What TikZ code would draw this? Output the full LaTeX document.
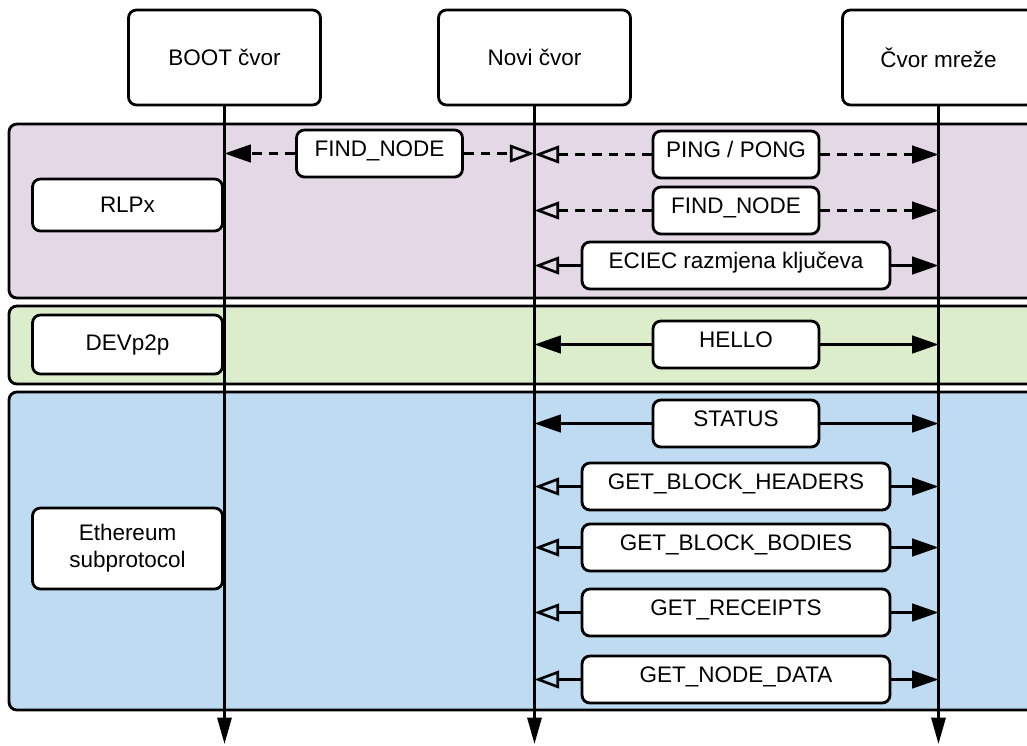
\documentclass[tikz,border=0pt]{standalone}
\usepackage{fontspec}
\setmainfont{Liberation Sans}
\usetikzlibrary{arrows.meta,positioning}
\definecolor{rlpxbg}{HTML}{E4D8E7}
\definecolor{devbg}{HTML}{DCEDCB}
\definecolor{ethbg}{HTML}{BEDBF1}

\begin{document}
\begin{tikzpicture}[x=0.02cm, y=-0.02cm, line width=1.6pt,
  font=\fontsize{12.8}{15.5}\selectfont,
  box/.style={draw, fill=white, line width=1.6pt, rounded corners=4.5pt, align=center, inner sep=0pt},
  head/.style={box, minimum width=3.84cm, minimum height=1.9cm},
  layer/.style={box, minimum width=3.8cm},
  msg/.style={box, minimum width=3.32cm, minimum height=0.94cm, text height=0.8em, text depth=0.44em},
  wide/.style={msg, minimum width=6.16cm},
  band/.style={draw, line width=1.6pt, rounded corners=4.5pt},
  full/.style={line width=1.5pt, -{Triangle[length=15pt,width=10pt]}},
  hollow/.style={line width=1.5pt, -{Triangle[open,length=14pt,width=10pt]}},
  life/.style={line width=1.6pt, -{Triangle[length=15pt,width=8pt]}},
  dashd/.style={dash pattern=on 5.5pt off 4pt}]
  \useasboundingbox (0,0) rectangle (1027,745);
  \clip (0,0) rectangle (1027,745);

  % protocol layers
  \draw[band, fill=rlpxbg] (9,124) rectangle (1060,298);
  \draw[band, fill=devbg]  (9,306) rectangle (1060,384);
  \draw[band, fill=ethbg]  (9,392) rectangle (1060,710);

  \node[layer, minimum height=1.04cm] (rlpx) at (127.5,205)   {RLPx};
  \node[layer, minimum height=1.18cm] (dev)  at (127.5,344.5) {DEVp2p};
  \node[layer, minimum height=1.62cm] (eth)  at (127.5,548.5) {Ethereum\\subprotocol};

  % participants
  \node[head] (boot)  at (224.5,57.5) {BOOT čvor};
  \node[head] (novi)  at (534.5,57.5) {Novi čvor};
  \node[head] (mreza) at (938.5,57.5) {Čvor mreže};
  \coordinate (bottom) at (0,744);
  \foreach \n in {boot,novi,mreza}
    \draw[life] (\n) -- (\n |- bottom);

  % messages
  \node[msg]  (findl)    at (379.5,153.5) {FIND\_NODE};
  \node[msg]  (ping)     at (736,154.5)   {PING / PONG};
  \node[msg]  (findr)    at (736,210.5)   {FIND\_NODE};
  \node[wide] (eciec)    at (736,265.5)   {ECIEC razmjena ključeva};
  \node[msg]  (hello)    at (736,344.5)   {HELLO};
  \node[msg]  (status)   at (736,423.5)   {STATUS};
  \node[wide] (headers)  at (736,486.5)   {GET\_BLOCK\_HEADERS};
  \node[wide] (bodies)   at (736,547.5)   {GET\_BLOCK\_BODIES};
  \node[wide] (receipts) at (736,612.5)   {GET\_RECEIPTS};
  \node[wide] (nodedata) at (736,679.5)   {GET\_NODE\_DATA};

  \draw[dashd, full]   (findl) -- (findl -| boot);
  \draw[dashd, hollow] (findl) -- (findl -| novi);
  \foreach \n in {ping,findr} {
    \draw[dashd, hollow] (\n) -- (\n -| novi);
    \draw[dashd, full]   (\n) -- (\n -| mreza);
  }
  \foreach \n in {hello,status} {
    \draw[full] (\n) -- (\n -| novi);
    \draw[full] (\n) -- (\n -| mreza);
  }
  \foreach \n in {eciec,headers,bodies,receipts,nodedata} {
    \draw[hollow] (\n) -- (\n -| novi);
    \draw[full]   (\n) -- (\n -| mreza);
  }
\end{tikzpicture}
\end{document}
